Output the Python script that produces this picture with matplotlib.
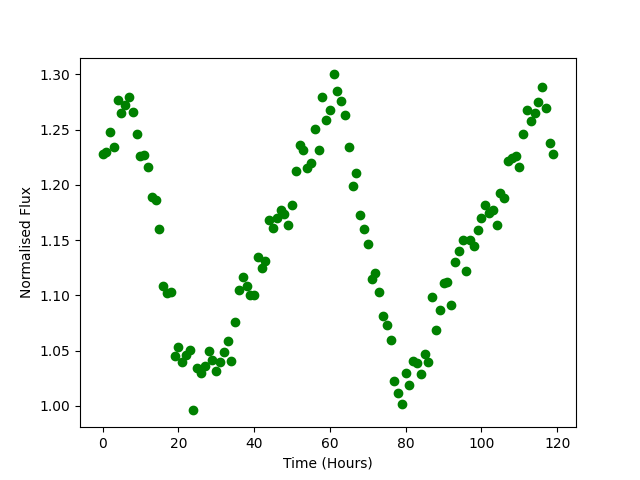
import numpy as np
import matplotlib
matplotlib.use("Agg")
import matplotlib.pyplot as plt

# normalised flux, one reading per hour
flux = [
    1.228, 1.230, 1.248, 1.234, 1.277, 1.265, 1.272, 1.280, 1.266, 1.246,
    1.226, 1.227, 1.216, 1.189, 1.186, 1.160, 1.109, 1.102, 1.103,
    1.045, 1.053, 1.040, 1.046, 1.051, 0.996, 1.034, 1.030, 1.036, 1.050,
    1.042, 1.032, 1.040, 1.049, 1.059, 1.041, 1.076,
    1.105, 1.117, 1.109, 1.100, 1.100, 1.135, 1.125, 1.131, 1.168, 1.161,
    1.170, 1.177, 1.174, 1.164, 1.182, 1.213,
    1.236, 1.232, 1.215, 1.220, 1.251, 1.232, 1.280, 1.259, 1.268, 1.300,
    1.285, 1.276, 1.263, 1.234, 1.199, 1.211, 1.173, 1.160,
    1.147, 1.115, 1.120, 1.103, 1.081, 1.073, 1.060, 1.023, 1.012, 1.002,
    1.030, 1.019, 1.041, 1.039, 1.029, 1.047, 1.040, 1.099, 1.069, 1.087,
    1.111, 1.112, 1.091, 1.130, 1.140, 1.150, 1.122, 1.150, 1.145, 1.159,
    1.170, 1.182, 1.175, 1.177, 1.164, 1.193, 1.188, 1.222, 1.224, 1.226,
    1.216, 1.246, 1.268, 1.258, 1.265, 1.275, 1.289, 1.270, 1.238, 1.228,
]
time_hours = np.arange(len(flux))

fig, ax = plt.subplots(figsize=(6.4, 4.8), dpi=100)
ax.plot(time_hours, flux, "o", color="green")
ax.set_xlabel("Time (Hours)")
ax.set_ylabel("Normalised Flux")

fig.savefig("out.png")
